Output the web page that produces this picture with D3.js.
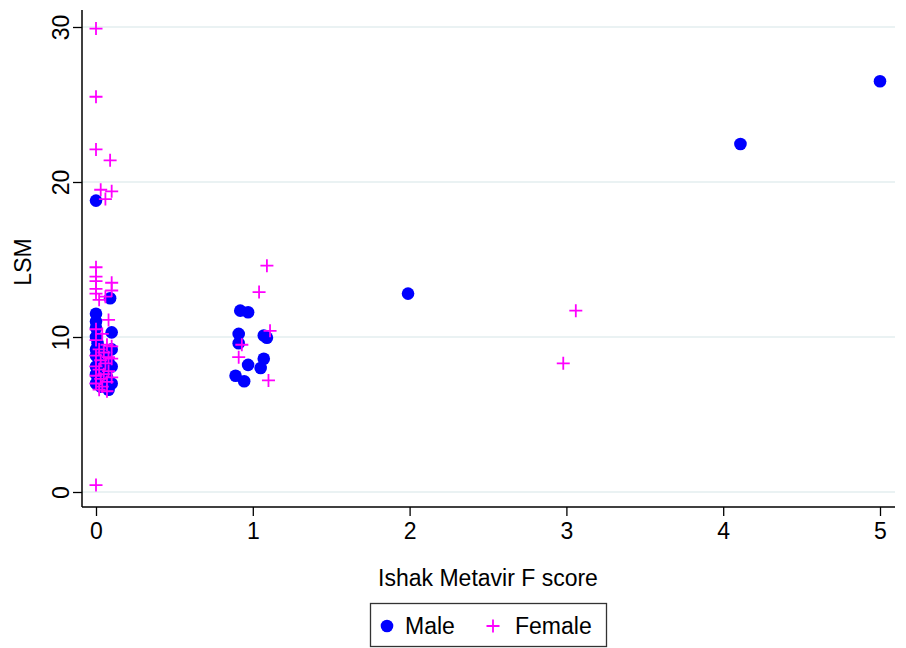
<!DOCTYPE html>
<html>
<head>
<meta charset="utf-8">
<script src="https://cdn.jsdelivr.net/npm/d3@7"></script>
<style>
  body { margin: 0; background: #fff; }
  text { font-family: "Liberation Sans", Arial, sans-serif; fill: #000; }
</style>
</head>
<body>
<div id="chart"></div>
<script>
// Male: [Ishak Metavir F score (jittered), LSM]
const maleX = [0.00, 0.09, 0.00, 0.00, 0.00, 0.10, 0.00, 0.01, 0.00, 0.10, 0.06, 0.00, 0.02, 0.08, 0.00, 0.10, 0.04, 0.00, 0.07, 0.02, 0.10, 0.06, 0.08, 0.00, 0.03,
               0.92, 0.97, 0.91, 0.91, 1.07, 1.09, 0.97, 1.07, 1.05, 0.89, 0.945,
               1.99, 4.11, 5.00];
const maleY = [18.8, 12.5, 11.5, 11.0, 10.6, 10.3, 10.0, 9.6, 9.2, 9.2, 9.0, 8.8, 8.5, 8.4, 8.1, 8.1, 7.8, 7.6, 7.4, 7.2, 7.0, 6.9, 6.6, 7.0, 6.8,
               11.7, 11.6, 10.2, 9.6, 10.1, 9.95, 8.2, 8.6, 8.0, 7.5, 7.15,
               12.8, 22.45, 26.5];

const femaleX = [0.00, 0.00, 0.00, 0.09, 0.03, 0.10, 0.06, 0.00, 0.00, 0.00, 0.00, 0.00, 0.06, 0.10, 0.10, 0.02, 0.08, 0.00, 0.04, 0.00,
                 0.07, 0.10, 0.02, 0.05, 0.00, 0.08, 0.03, 0.10, 0.06, 0.00, 0.02, 0.08, 0.05, 0.00, 0.10, 0.03, 0.07, 0.00, 0.04, 0.02, 0.07, 0.00,
                 1.09, 1.04, 1.11, 0.93, 0.91, 1.10,
                 2.98, 3.06];
const femaleY = [29.9, 25.5, 22.1, 21.4, 19.5, 19.4, 18.9, 14.5, 13.9, 13.6, 13.1, 12.8, 12.6, 13.5, 13.0, 12.4, 11.1, 10.5, 10.2, 9.8,
                 9.5, 9.4, 9.2, 9.0, 8.8, 8.7, 8.5, 8.6, 8.3, 8.1, 7.9, 7.8, 7.6, 7.5, 7.4, 7.3, 7.1, 7.0, 6.8, 6.6, 6.5, 0.45,
                 14.6, 12.9, 10.4, 9.5, 8.7, 7.2,
                 8.3, 11.7];

const xTicks = [0, 1, 2, 3, 4, 5];
const yTicks = [0, 10, 20, 30];

const width = 906, height = 648;
const fontSize = "23px";

const svg = d3.select("#chart")
              .append("svg")
              .attr("width", width)
              .attr("height", height);

const x = d3.scaleLinear().domain([0, 5]).range([96, 880]);
const y = d3.scaleLinear().domain([0, 30]).range([492, 27]);

const plotLeft = 82, plotRight = 895, plotTop = 10, plotBottom = 507;

// Gridlines
svg.append("g")
   .selectAll("line")
   .data(yTicks)
   .join("line")
   .attr("x1", plotLeft)
   .attr("x2", plotRight)
   .attr("y1", d => y(d))
   .attr("y2", d => y(d))
   .attr("stroke", "#eaf2f3")
   .attr("stroke-width", 2);

// Y axis
const yAxis = svg.append("g")
   .attr("transform", `translate(${plotLeft},0)`)
   .call(d3.axisLeft(y).tickValues(yTicks).tickSize(9).tickSizeOuter(0));
yAxis.select(".domain").remove();
yAxis.selectAll(".tick line").attr("stroke", "#000").attr("stroke-width", 1.3);
yAxis.selectAll(".tick text")
     .attr("transform", "rotate(-90)")
     .attr("x", 0)
     .attr("y", -13)
     .attr("dy", "0")
     .style("text-anchor", "middle")
     .style("font-size", fontSize)
     .style("font-family", "Liberation Sans, Arial, sans-serif");
yAxis.append("line")
     .attr("x1", 0).attr("x2", 0)
     .attr("y1", plotTop).attr("y2", plotBottom)
     .attr("stroke", "#000").attr("stroke-width", 1.5);

// X axis
const xAxis = svg.append("g")
   .attr("transform", `translate(0,${plotBottom})`)
   .call(d3.axisBottom(x).tickValues(xTicks).tickFormat(d3.format("d")).tickSize(9).tickPadding(7).tickSizeOuter(0));
xAxis.select(".domain").remove();
xAxis.selectAll(".tick line").attr("stroke", "#000").attr("stroke-width", 1.3);
xAxis.selectAll(".tick text")
     .style("font-size", fontSize)
     .style("font-family", "Liberation Sans, Arial, sans-serif");
xAxis.append("line")
     .attr("x1", plotLeft).attr("x2", plotRight)
     .attr("y1", 0).attr("y2", 0)
     .attr("stroke", "#000").attr("stroke-width", 1.5);

// Axis titles
svg.append("text")
   .attr("x", 488)
   .attr("y", 586)
   .attr("text-anchor", "middle")
   .style("font-size", fontSize)
   .text("Ishak Metavir F score");

svg.append("text")
   .attr("transform", "translate(31,262) rotate(-90)")
   .attr("text-anchor", "middle")
   .style("font-size", fontSize)
   .text("LSM");

// Points
const male = maleX.map((v, i) => ({ x: v, y: maleY[i] }));
const female = femaleX.map((v, i) => ({ x: v, y: femaleY[i] }));

svg.append("g")
   .selectAll("circle")
   .data(male)
   .join("circle")
   .attr("cx", d => x(d.x))
   .attr("cy", d => y(d.y))
   .attr("r", 6.3)
   .attr("fill", "#0000ff");

const crossPath = (cx, cy, s) => `M${cx - s},${cy}H${cx + s}M${cx},${cy - s}V${cy + s}`;

svg.append("g")
   .selectAll("path")
   .data(female)
   .join("path")
   .attr("d", d => crossPath(x(d.x), y(d.y), 6.5))
   .attr("fill", "none")
   .attr("stroke", "#ff00ff")
   .attr("stroke-width", 1.8);

// Legend
const legend = svg.append("g");
legend.append("rect")
      .attr("x", 370.5).attr("y", 603.5)
      .attr("width", 236).attr("height", 43)
      .attr("fill", "#fff")
      .attr("stroke", "#333")
      .attr("stroke-width", 1.3);
legend.append("circle")
      .attr("cx", 387).attr("cy", 626)
      .attr("r", 6.3)
      .attr("fill", "#0000ff");
legend.append("text")
      .attr("x", 405).attr("y", 634)
      .style("font-size", fontSize)
      .text("Male");
legend.append("path")
      .attr("d", crossPath(493, 626, 6.5))
      .attr("stroke", "#ff00ff")
      .attr("stroke-width", 1.8);
legend.append("text")
      .attr("x", 515).attr("y", 634)
      .style("font-size", fontSize)
      .text("Female");
</script>
</body>
</html>
